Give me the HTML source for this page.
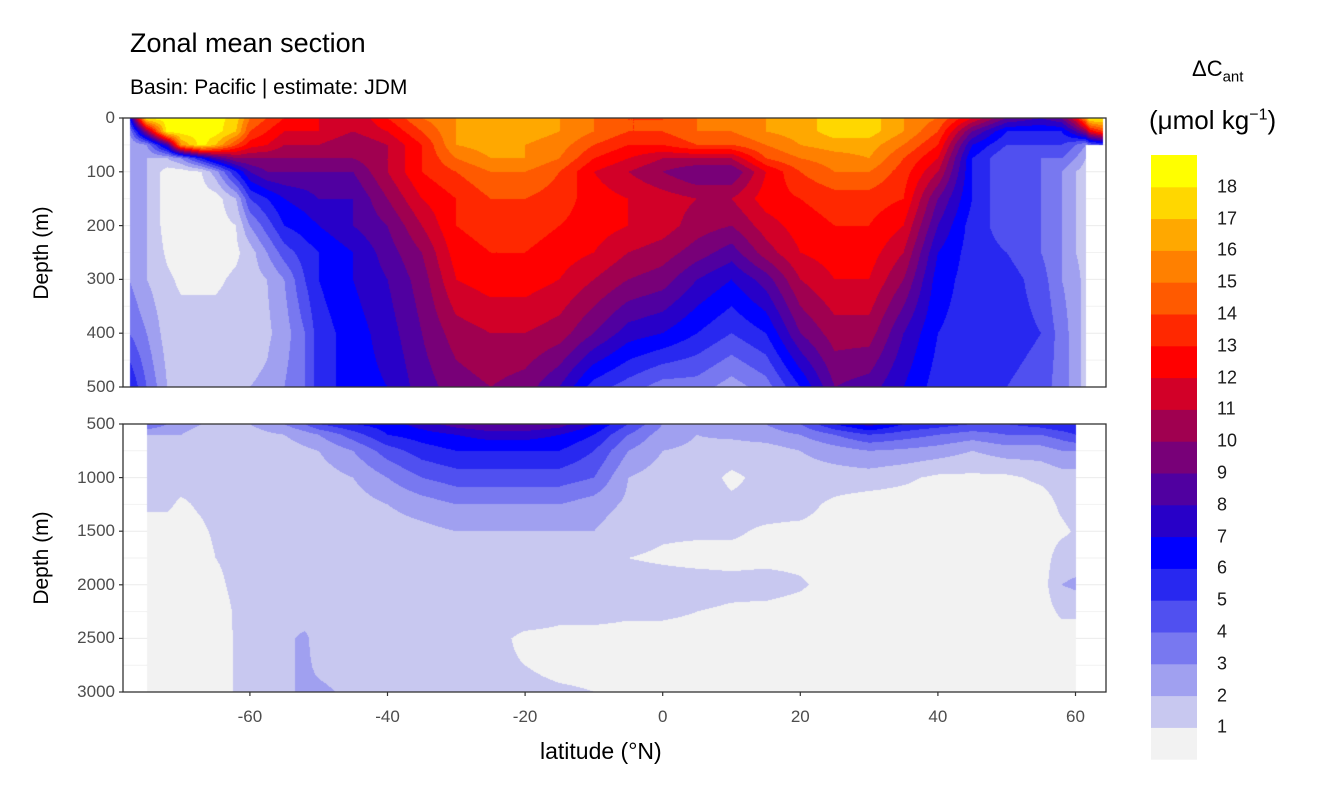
<!DOCTYPE html>
<html><head><meta charset="utf-8"><style>
body{margin:0;background:#fff;width:1344px;height:806px;position:relative;overflow:hidden;font-family:"Liberation Sans",sans-serif}
.t{position:absolute;white-space:nowrap}
.yl{position:absolute;right:1229px;font-size:17px;color:#4d4d4d;transform:translateY(-50%)}
.xl{position:absolute;top:707px;font-size:17px;color:#4d4d4d;transform:translateX(-50%)}
.lg{position:absolute;left:1217px;font-size:18px;color:#1a1a1a;transform:translateY(-50%)}
</style></head><body>
<div class="t" style="left:130px;top:28px;font-size:27px;color:#000">Zonal mean section</div>
<div class="t" style="left:130px;top:76px;font-size:21px;color:#000">Basin: Pacific | estimate: JDM</div>
<div class="t" style="left:42px;top:253px;font-size:21px;transform:translate(-50%,-50%) rotate(-90deg)">Depth (m)</div>
<div class="t" style="left:42px;top:558px;font-size:21px;transform:translate(-50%,-50%) rotate(-90deg)">Depth (m)</div>
<div class="t" style="left:540px;top:738px;font-size:23px">latitude (°N)</div>
<div class="t" style="left:1192px;top:56px;font-size:22px">ΔC<sub style="font-size:15px">ant</sub></div>
<div class="t" style="left:1149px;top:105px;font-size:26px">(μmol kg<sup style="font-size:16px">−1</sup>)</div>
<svg id="axes" width="1344" height="806" style="position:absolute;left:0;top:0"></svg>
<canvas id="c1" width="983" height="269" style="position:absolute;left:123px;top:118px"></canvas>
<canvas id="c2" width="983" height="268" style="position:absolute;left:123px;top:424px"></canvas>
<div id="labels"></div>
<script>
const colors=["#f2f2f2","#c8c8f0","#a0a0f0","#7878f0","#5050f0","#2828f0","#0000ff","#2800c8","#5000a0","#780078","#a00050","#d20028","#ff0000","#ff2800","#ff5a00","#ff8000","#ffa800","#ffd700","#ffff00"];
const legendLabels=[1,2,3,4,5,6,7,8,9,10,11,12,13,14,15,16,17,18];
const xTicks=[-60,-40,-20,0,20,40,60];
const topTicks=[0,100,200,300,400,500];
const botTicks=[500,1000,1500,2000,2500,3000];
const lats=[-77.5,-75,-72,-70,-67,-65,-62,-60,-57.5,-55,-52,-50,-45,-40,-35,-30,-25,-20,-15,-10,-5,0,5,10,15,20,25,30,35,40,45,50,55,58,60,61.5,62,64];
const depthsTop=[0,25,50,75,100,150,200,250,300,400,500];
const depthsBot=[500,600,750,1000,1250,1500,1750,2000,2250,2500,2750,3000];
const N=NaN;
const valTop=[
[6,3,2,2,2,2,2,2,3,4,6],
[18.5,10,3,2,2,2,2,2,2,3,4],
[18.5,18.5,8,2,0.5,0.5,0.5,0.8,1.2,1.5,2],
[18.5,18.5,16,3,0.5,0.5,0.5,0.5,0.8,1.5,1.5],
[18.5,18.5,18.5,6,1,0.5,0.5,0.5,0.8,1.5,1.5],
[18.5,18.5,17,8,2.5,0.5,0.5,0.5,0.8,1.5,1.5],
[17.5,17,14,10,6,2,1,0.8,1.2,1.5,1.8],
[15,14,12.5,10,8,5,3,1.5,1.5,1.5,2],
[14,13,12,10,9,6,4.5,3,2,1.8,2.2],
[13,12,11,10,9,7,6,4.5,3,2.5,3],
[12.5,12,11,10,9,7.5,6.5,5.5,5,4,4],
[12,12,11,10,9,8,7,6,6,5.5,5.5],
[11,11,10,10,9,8,8,7,7,6.5,6.5],
[13,12,11,11,11,10,9,8.5,8,7.5,7],
[15,14,13,13,13,12,11,10,9.5,9,8.5],
[16,16,16,15,14,13,13,12.5,12,10.5,9.5],
[16.5,16.5,16.5,16,15,14,13.5,13,12.5,11,10],
[16.5,16.5,16,16,15,14,13.5,13,12.5,11,9.5],
[16,16,15.5,15,14,13.5,13,12.5,12,10.5,8],
[15,15,14,13,12,12.5,12.5,12,11,9,5.5],
[14,14,13,12,11,12,12,11,10,7.5,4.5],
[14,14,13,11,10,11.5,11.5,10.5,9.5,7,3.5],
[15,15,14,11,9,11,10.5,9.5,8,6,3.5],
[15,15,14,11,9,11,10,8.5,7,5,2.5],
[16,16,15,14,12,12.5,11.5,10.5,8.5,6,3.5],
[16.5,16.5,16,15,14,13,12.5,12,11,9,6],
[17.5,17.5,16.5,15.5,15,13.5,13,12.5,12,10.5,9],
[17.5,17.5,16.5,16,15,13.5,13,12.5,12,10.5,8.5],
[16,16,15,14,13.5,13,12,11,10,8,7],
[15,14,13,12,11,9,8,7,6.5,6,5.5],
[12,9,7,6,6,6,5.5,5.5,5.5,5.5,5.5],
[9,6,5,4,4,4,4.5,5,5.5,5.5,5],
[8,6,5,4,4,4,4,4,4.5,5,4.5],
[9,6,5,4,3,3,3,3,3,3.5,3.5],
[12,8,4,3,2,2,2,2,2.5,2.5,2.5],
[16,10,3,2,1.5,1.5,1.5,1.5,1.5,1.5,1.5],
[18.5,12,4,N,N,N,N,N,N,N,N],
[18.5,14,5,N,N,N,N,N,N,N,N]];
const valBot=[
[N,N,N,N,N,N,N,N,N,N,N,N],
[4,2,1.5,1.5,1.2,0.5,0.5,0.5,0.5,0.5,0.5,0.5],
[3,2,2,1.5,1.2,0.5,0.5,0.5,0.5,0.5,0.5,0.5],
[2.5,2,1.5,1.5,0.8,0.5,0.5,0.5,0.5,0.5,0.5,0.5],
[2,1.5,1.5,1.5,1.2,0.8,0.5,0.5,0.5,0.5,0.5,0.5],
[2,1.5,1.5,1.5,1.5,1.2,1,0.8,0.6,0.5,0.5,0.5],
[2,1.5,1.5,1.5,1.5,1.5,1.2,1.2,1.1,1.1,1.1,1.1],
[2,1.5,1.5,1.5,1.5,1.5,1.5,1.5,1.5,1.5,1.5,1.5],
[2.5,1.8,1.5,1.5,1.5,1.5,1.5,1.5,1.5,1.6,1.6,1.6],
[3,2,1.5,1.5,1.5,1.5,1.5,1.5,1.5,1.8,1.8,1.8],
[4,2.5,1.8,1.5,1.5,1.5,1.5,1.5,1.5,2.2,2.2,2.2],
[5,3,2,1.5,1.5,1.5,1.5,1.5,1.5,1.5,1.8,2.2],
[6,4.5,3,2,1.5,1.5,1.5,1.5,1.5,1.5,1.5,1.8],
[6.5,6,4.5,3,2,1.5,1.5,1.5,1.5,1.5,1.5,1.5],
[7.5,6.5,5.5,4,2.5,1.7,1.5,1.5,1.5,1.5,1.5,1.5],
[8.5,7,6,4.5,3,2,1.5,1.5,1.5,1.5,1.5,1.5],
[9,7.5,6,4.5,3,2,1.5,1.5,1.5,1.3,1.2,1.2],
[9,7.5,6,4.5,3,2,1.5,1.5,1.5,0.8,1,1.2],
[8.5,7,6,4.5,3,2,1.5,1.5,1.2,0.8,0.8,1.1],
[7,6,5,4,2.5,2,1.5,1.5,1.2,0.8,0.8,1.0],
[5,4,3,2,1.8,1.3,1,1.3,1.1,0.8,0.8,0.8],
[3,2.5,2,1.5,1.5,1.1,0.9,1.3,1.1,0.8,0.6,0.5],
[2.5,2,1.8,1.5,1.5,1.1,0.8,1.3,1,0.8,0.6,0.5],
[2.5,2.2,1.5,0.8,1.2,1.1,0.8,1.2,0.9,0.5,0.5,0.5],
[3,2.5,1.5,1.3,1.3,0.9,0.8,1.3,0.8,0.5,0.5,0.5],
[4,3,2,1.5,1.3,0.8,0.8,1.1,0.7,0.5,0.5,0.5],
[6,4,2.5,1.5,0.8,0.7,0.7,0.7,0.5,0.5,0.5,0.5],
[7.5,5,3,1.5,0.5,0.5,0.5,0.5,0.5,0.5,0.5,0.5],
[6,4.5,2.8,1.2,0.5,0.5,0.5,0.5,0.5,0.5,0.5,0.5],
[5.5,4,2.5,0.8,0.5,0.5,0.5,0.5,0.5,0.5,0.5,0.5],
[5,3.5,2,0.8,0.5,0.5,0.5,0.5,0.5,0.5,0.5,0.5],
[5,4,2.5,0.8,0.5,0.5,0.5,0.5,0.5,0.5,0.5,0.5],
[5.5,4,2.5,1.2,0.5,0.5,0.5,0.5,0.5,0.5,0.5,0.5],
[6,4.5,3,1.5,1.2,0.8,1.5,2,1.2,0.5,0.5,0.5],
[6,5,3,1.5,1.5,1.1,1.5,2.2,1.2,0.5,0.5,0.5],
[N,N,N,N,N,N,N,N,N,N,N,N],
[N,N,N,N,N,N,N,N,N,N,N,N],
[N,N,N,N,N,N,N,N,N,N,N,N]];

const X0=123,X1=1106;
function xScale(lat){return 662.7+6.88*lat;}
function yTop(d){return 118+d*0.538;}
function yBot(d){return 424+(d-500)*0.1072;}
function invX(px){return (px-662.7)/6.88;}
function bracket(arr,v){let i=0;while(i<arr.length-2&&arr[i+1]<v)i++;let t=(v-arr[i])/(arr[i+1]-arr[i]);return [i,Math.max(0,Math.min(1,t))];}
function hex(c){return [parseInt(c.slice(1,3),16),parseInt(c.slice(3,5),16),parseInt(c.slice(5,7),16)];}
const rgb=colors.map(hex);
function draw(id,depths,vals,yS,y0){
  const cv=document.getElementById(id),ctx=cv.getContext('2d');
  const W=cv.width,H=cv.height,img=ctx.createImageData(W,H);
  const dmin=depths[0],dmax=depths[depths.length-1];
  const y1=yS(dmax);
  for(let py=0;py<H;py++){
    const d=dmin+(py+0.5)/(y1-y0)*(dmax-dmin);
    const [j,tj]=bracket(depths,d);
    for(let px=0;px<W;px++){
      const lat=invX(X0+px+0.5);
      if(lat<lats[0]||lat>lats[lats.length-1])continue;
      const [i,ti]=bracket(lats,lat);
      const a=vals[i][j],b=vals[i+1][j],c=vals[i][j+1],e=vals[i+1][j+1];
      if(isNaN(a)||isNaN(b)||isNaN(c)||isNaN(e))continue;
      const v=(a*(1-ti)+b*ti)*(1-tj)+(c*(1-ti)+e*ti)*tj;
      const k=Math.max(0,Math.min(18,Math.floor(v)));
      const o=(py*W+px)*4,col=rgb[k];
      img.data[o]=col[0];img.data[o+1]=col[1];img.data[o+2]=col[2];img.data[o+3]=255;
    }
  }
  ctx.putImageData(img,0,0);
}
draw('c1',depthsTop,valTop,yTop,118);
draw('c2',depthsBot,valBot,yBot,424);

const svg=document.getElementById('axes'),NS='http://www.w3.org/2000/svg';
function el(tag,attrs){const e=document.createElementNS(NS,tag);for(const k in attrs)e.setAttribute(k,attrs[k]);svg.appendChild(e);return e;}
[[topTicks,yTop],[botTicks,yBot]].forEach(([ticks,ys])=>{
  for(let k=0;k<ticks.length;k++){
    const y=ys(ticks[k]);
    const g=el('line',{x1:X0,x2:X1,y1:y,y2:y,stroke:'#ebebeb','stroke-width':1});
    
    
    if(k<ticks.length-1){const ym=(y+ys(ticks[k+1]))/2;const g2=el('line',{x1:X0,x2:X1,y1:ym,y2:ym,stroke:'#f2f2f2','stroke-width':1});
    
    }
  }
});
const lab=document.getElementById('labels');
function addDiv(cls,txt,style,name){const d=document.createElement('div');d.className=cls;d.textContent=txt;d.setAttribute('style',style);


lab.appendChild(d);}
topTicks.forEach(t=>{addDiv('yl',t,'top:'+yTop(t)+'px','y-tick-label-top');
const l=el('line',{x1:119,x2:123,y1:yTop(t),y2:yTop(t),stroke:'#333','stroke-width':1.2});

});
botTicks.forEach(t=>{addDiv('yl',t,'top:'+yBot(t)+'px','y-tick-label-bottom');
const l=el('line',{x1:119,x2:123,y1:yBot(t),y2:yBot(t),stroke:'#333','stroke-width':1.2});

});
xTicks.forEach(t=>{addDiv('xl',t,'left:'+xScale(t)+'px','x-tick-label');
const l=el('line',{x1:xScale(t),x2:xScale(t),y1:692,y2:696,stroke:'#333','stroke-width':1.2});

});
const LT=155,LH=31.8;
for(let k=0;k<colors.length;k++){
  const r=el('rect',{x:1151,y:LT+(18-k)*LH,width:46,height:LH+0.5,fill:colors[k]});
  
  
}
legendLabels.forEach(v=>{addDiv('lg',v,'top:'+(LT+(19-v)*LH)+'px','legend-label');});
</script>
<svg width="1344" height="806" style="position:absolute;left:0;top:0;pointer-events:none">
<rect x="123" y="118" width="983" height="269" fill="none" stroke="#333" stroke-width="1.3"/>
<rect x="123" y="424" width="983" height="268" fill="none" stroke="#333" stroke-width="1.3"/>
</svg>
</body></html>
